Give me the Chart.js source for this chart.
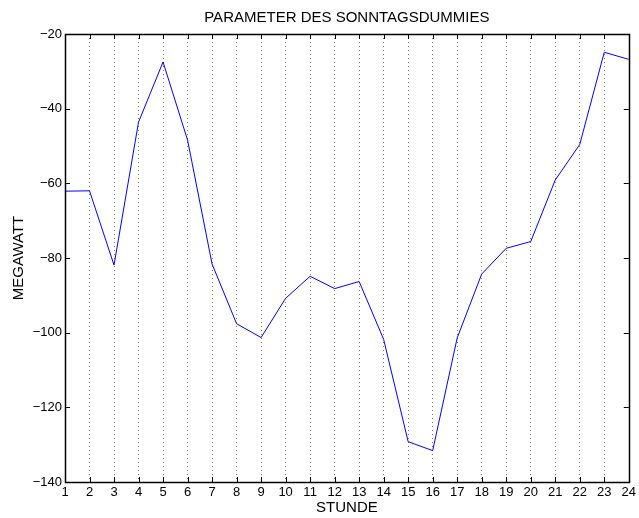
<!DOCTYPE html>
<html><head><meta charset="utf-8">
<script src="https://cdn.jsdelivr.net/npm/chart.js@4/dist/chart.umd.min.js"></script>
<style>html,body{margin:0;padding:0;background:#fff}#wrap{width:639px;height:518px}</style>
</head><body><div id="wrap"><canvas id="c" width="639" height="518"></canvas></div>
<script>
const hours = [1,2,3,4,5,6,7,8,9,10,11,12,13,14,15,16,17,18,19,20,21,22,23,24];
const megawatt = [-62.1,-62.0,-81.9,-43.6,-27.5,-48.4,-81.6,-97.6,-101.3,-90.8,-84.9,-88.2,-86.3,-101.8,-129.2,-131.6,-101.4,-84.3,-77.4,-75.6,-59.1,-49.6,-24.9,-26.8];
const yTicks = [-140,-120,-100,-80,-60,-40,-20];
const titleText = 'PARAMETER DES SONNTAGSDUMMIES';
const xLabel = 'STUNDE';
const yLabel = 'MEGAWATT';

const FONT = "'Liberation Sans', Arial, Helvetica, sans-serif";

const framePlugin = {
  id: 'frame',
  afterDraw(chart) {
    const {ctx, chartArea: a, scales} = chart;
    ctx.save();
    ctx.strokeStyle = '#000';
    ctx.lineWidth = 1;
    const tl = 5;
    ctx.beginPath();
    hours.forEach(h => {
      const x = Math.round(scales.x.getPixelForValue(h)) + 0.5;
      ctx.moveTo(x, a.bottom); ctx.lineTo(x, a.bottom - tl);
      ctx.moveTo(x, a.top); ctx.lineTo(x, a.top + tl);
    });
    yTicks.forEach(v => {
      const y = Math.round(scales.y.getPixelForValue(v)) + 0.5;
      ctx.moveTo(a.left, y); ctx.lineTo(a.left + tl, y);
      ctx.moveTo(a.right, y); ctx.lineTo(a.right - tl, y);
    });
    ctx.stroke();
    ctx.lineWidth = 1.5;
    ctx.strokeRect(Math.round(a.left)+0.5, Math.round(a.top)+0.5, Math.round(a.right-a.left), Math.round(a.bottom-a.top));
    ctx.fillStyle = '#000';
    ctx.font = '15px ' + FONT;
    ctx.textAlign = 'center';
    ctx.textBaseline = 'middle';
    ctx.fillText(titleText, (a.left + a.right) / 2, 18);
    ctx.restore();
  }
};

new Chart(document.getElementById('c'), {
  type: 'line',
  data: {
    datasets: [{
      data: hours.map((h, i) => ({x: h, y: megawatt[i]})),
      borderColor: '#0000ff',
      borderWidth: 1,
      pointRadius: 0,
      tension: 0,
      fill: false
    }]
  },
  options: {
    responsive: false,
    animation: false,
    layout: {padding: {top: 34, right: 7, left: 0, bottom: 0}},
    plugins: {legend: {display: false}, tooltip: {enabled: false}},
    scales: {
      x: {
        type: 'linear', min: 1, max: 24,
        afterFit(s) { s.height = 36; },
        afterBuildTicks(s) { s.ticks = hours.map(v => ({value: v})); },
        grid: {
          drawTicks: false,
          color: ctx => (ctx.tick && (ctx.tick.value === 1 || ctx.tick.value === 24)) ? 'rgba(0,0,0,0)' : '#777',
          lineWidth: 1
        },
        border: {display: false, dash: [1, 3]},
        ticks: {color: '#000', font: {family: FONT, size: 13}, padding: 3, maxRotation: 0, autoSkip: false,
          callback: v => String(v)},
        title: {display: true, text: xLabel, color: '#000', font: {family: FONT, size: 15}, padding: {top: 0, bottom: 1}}
      },
      y: {
        type: 'linear', min: -140, max: -20,
        afterFit(s) { s.width = 65; },
        afterBuildTicks(s) { s.ticks = yTicks.map(v => ({value: v})); },
        grid: {display: false, drawTicks: false},
        border: {display: false},
        ticks: {color: '#000', font: {family: FONT, size: 13}, padding: 3,
          callback: v => String(v).replace('-', '\u2212')},
        title: {display: true, text: yLabel, color: '#000', font: {family: FONT, size: 15}, padding: {top: 10, bottom: 0}}
      }
    }
  },
  plugins: [framePlugin]
});
</script>
</body></html>
